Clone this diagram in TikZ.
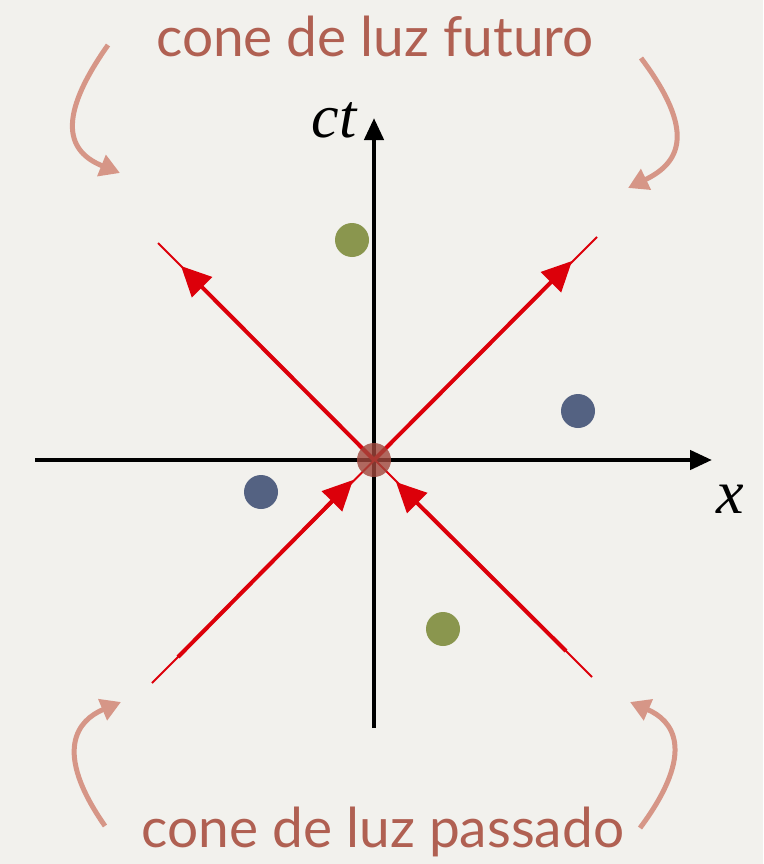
\documentclass[tikz,border=0pt]{standalone}
\usepackage{fontspec}
\setmainfont{Lato}
\newfontfamily\axisfont{Liberation Serif}
\usetikzlibrary{arrows.meta}
\definecolor{paper}{RGB}{242,241,237}
\definecolor{conered}{RGB}{220,0,10}
\definecolor{labelbrown}{RGB}{176,96,82}
\definecolor{curlpink}{RGB}{214,150,135}
\definecolor{olivedot}{RGB}{138,150,78}
\definecolor{bluedot}{RGB}{84,98,130}
\definecolor{origindot}{RGB}{160,70,60}
\tikzset{
  axis/.style={line width=4.5pt,-{Triangle[length=22pt,width=19pt]}},
  ray/.style={conered,line width=4pt,-{Triangle[length=30pt,width=28pt]}},
  rayend/.style={conered,line width=2pt},
  curl/.style={curlpink,line width=5pt,-{Triangle[length=20pt,width=22pt]}},
  dot/.style={circle,inner sep=0pt,minimum size=34pt},
  conelabel/.style={labelbrown,font=\fontsize{55}{62}\selectfont},
  axislabel/.style={font=\fontsize{62}{68}\selectfont\axisfont\itshape}
}
\begin{document}
\begin{tikzpicture}[x=1pt,y=-1pt]
  \fill[paper](0,0) rectangle (763,864);
  \useasboundingbox (0,0) rectangle (763,864);
  % axes
  \coordinate (xl) at (35,460); \coordinate (xr) at (712,460);
  \coordinate (tb) at (374,728); \coordinate (tt) at (374,118);
  \draw[axis](xl)--(xr);
  \draw[axis](tb)--(tt);
  \node[axislabel,anchor=base east] (ctlab) at (360,137){ct};
  \node[axislabel,anchor=base] (xlab) at (730,513){x};
  % light cone
  \coordinate (o) at (374,460);
  \coordinate (ul) at (158,243); \coordinate (ulh) at (181,266);
  \coordinate (ur) at (597,237); \coordinate (urh) at (572,261);
  \coordinate (ll) at (152,683); \coordinate (llt) at (178,657); \coordinate (llh) at (353,480);
  \coordinate (lr) at (592,677); \coordinate (lrt) at (566,651); \coordinate (lrh) at (396,482);
  \draw[rayend](ll)--(ur); \draw[rayend](lr)--(ul);
  \draw[ray](o)--(ulh);
  \draw[ray](o)--(urh);
  \draw[ray](llt)--(llh);
  \draw[ray](lrt)--(lrh);
  \node[dot,fill=origindot,fill opacity=0.8] (event) at (o){};
  \node[dot,fill=olivedot] (p1) at (352,240){};
  \node[dot,fill=olivedot] (p2) at (443,629){};
  \node[dot,fill=bluedot] (q1) at (578,411){};
  \node[dot,fill=bluedot] (q2) at (261,492){};
  % labels
  \node[conelabel] (fut) at (375,36){cone de luz futuro};
  \node[conelabel] (pas) at (383,832){cone de luz passado};
  \coordinate (a1) at (108,45); \coordinate (b1) at (120,173);
  \coordinate (a2) at (641,58); \coordinate (b2) at (628,188);
  \coordinate (a3) at (105,826); \coordinate (b3) at (121,702);
  \coordinate (a4) at (640,828); \coordinate (b4) at (630,702);
  \draw[curl](a1) .. controls (55,120) and (68,152) .. (b1);
  \draw[curl](a2) .. controls (695,130) and (682,162) .. (b2);
  \draw[curl](a3) .. controls (52,750) and (78,720) .. (b3);
  \draw[curl](a4) .. controls (698,750) and (672,720) .. (b4);
\end{tikzpicture}
\end{document}
